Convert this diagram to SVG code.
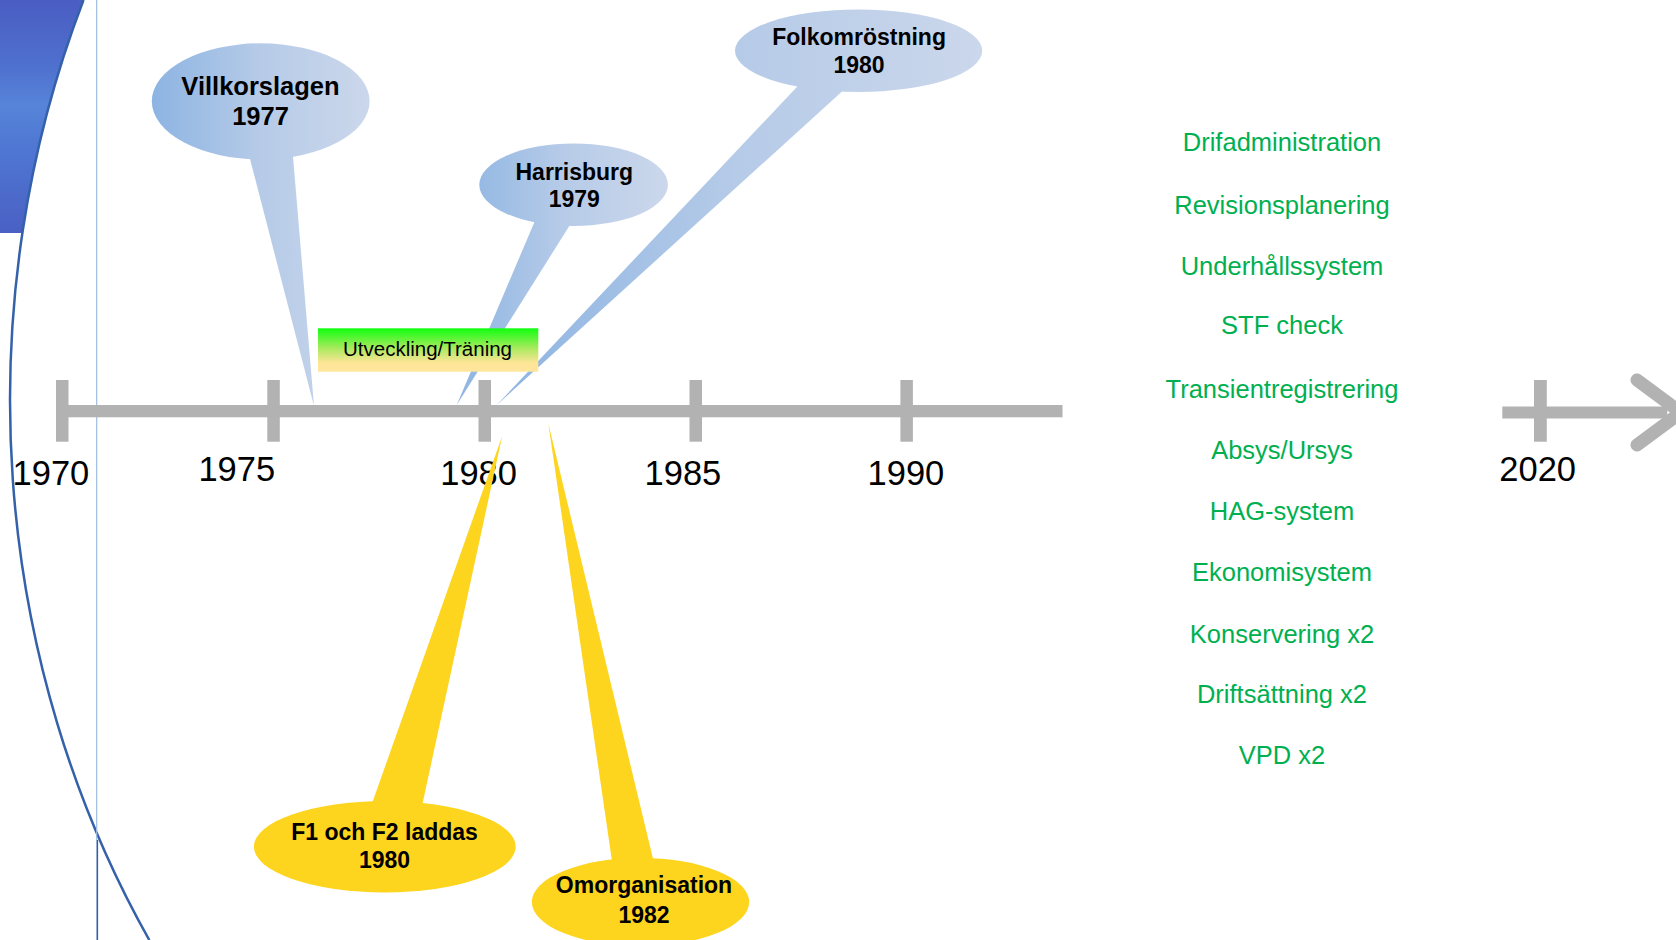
<svg xmlns="http://www.w3.org/2000/svg" width="1676" height="940" viewBox="0 0 1676 940">
<defs>
<linearGradient id="gBlueFill" x1="0" y1="0" x2="0" y2="1">
<stop offset="0" stop-color="#4a5dc2"/>
<stop offset="0.3" stop-color="#4f72cf"/>
<stop offset="0.45" stop-color="#5784d9"/>
<stop offset="0.62" stop-color="#4f78d3"/>
<stop offset="1" stop-color="#4a60c4"/>
</linearGradient>
<linearGradient id="gV" gradientUnits="userSpaceOnUse" x1="152" y1="0" x2="370" y2="0">
<stop offset="0" stop-color="#8db4e2"/>
<stop offset="0.5" stop-color="#b6cbe8"/>
<stop offset="1" stop-color="#cbd7eb"/>
</linearGradient>
<linearGradient id="gH" gradientUnits="userSpaceOnUse" x1="456" y1="0" x2="668" y2="0">
<stop offset="0" stop-color="#8db4e2"/>
<stop offset="0.5" stop-color="#b6cbe8"/>
<stop offset="1" stop-color="#cbd7eb"/>
</linearGradient>
<linearGradient id="gF" gradientUnits="userSpaceOnUse" x1="497" y1="0" x2="982" y2="0">
<stop offset="0" stop-color="#8db4e2"/>
<stop offset="0.5" stop-color="#b6cbe8"/>
<stop offset="1" stop-color="#cbd7eb"/>
</linearGradient>
<linearGradient id="gBox" x1="0" y1="0" x2="0" y2="1">
<stop offset="0" stop-color="#10ff10"/>
<stop offset="0.45" stop-color="#a6ea5c"/>
<stop offset="0.8" stop-color="#ffe598"/>
<stop offset="1" stop-color="#ffe69c"/>
</linearGradient>
<style>
.bold{font-family:"Liberation Sans",Arial,sans-serif;font-weight:bold;font-size:23px;fill:#000;text-anchor:middle}
.yr{font-family:"Liberation Sans",Arial,sans-serif;font-size:34.5px;fill:#000;text-anchor:middle}
.grn{font-family:"Liberation Sans",Arial,sans-serif;font-size:25.5px;fill:#00b050;text-anchor:middle}
.yel{fill:#fdd41e}
.axis{fill:#b2b2b2}
</style>
</defs>
<rect width="1676" height="940" fill="#ffffff"/>

<g id="decor">
<path d="M0,0 L83.5,0 A880,1000 0 0 0 22.4,233 L0,233 Z" fill="url(#gBlueFill)"/>
<path d="M83.5,0 A880,1000 0 0 0 149.3,940" fill="none" stroke="#3461aa" stroke-width="2.5"/>
<line x1="96.7" y1="0" x2="96.7" y2="840" stroke="#9dbbe2" stroke-width="1.2"/>
<line x1="97.3" y1="840" x2="97.3" y2="940" stroke="#2f5fab" stroke-width="1.6"/>
</g>

<g id="callout-villkorslagen">
<polygon points="314,406 245.1,140 291.6,140" fill="url(#gV)"/>
<ellipse cx="260.7" cy="101.3" rx="108.9" ry="58" fill="url(#gV)"/>
<text class="bold" x="260.5" y="95" style="font-size:25.5px">Villkorslagen</text>
<text class="bold" x="260.5" y="125" style="font-size:25.5px">1977</text>
</g>

<g id="callout-harrisburg">
<polygon points="456.7,405 543.8,200 585.7,200" fill="url(#gH)"/>
<ellipse cx="573.6" cy="184.7" rx="94.3" ry="41.3" fill="url(#gH)"/>
<text class="bold" x="574.3" y="180">Harrisburg</text>
<text class="bold" x="574.3" y="206.7">1979</text>
</g>

<g id="callout-folkomrostning">
<polygon points="496.7,405 822.3,60 876.7,60" fill="url(#gF)"/>
<ellipse cx="858.6" cy="50.7" rx="123.6" ry="41.3" fill="url(#gF)"/>
<text class="bold" x="859.1" y="45">Folkomröstning</text>
<text class="bold" x="859.1" y="73.3">1980</text>
</g>

<g id="box-utveckling">
<rect x="318" y="328.3" width="220.3" height="43.4" fill="url(#gBox)"/>
<text x="427.5" y="356" style="font-family:'Liberation Sans',Arial,sans-serif;font-size:20.5px;fill:#000;text-anchor:middle">Utveckling/Träning</text>
</g>

<g id="connectors">
<rect class="axis" x="56" y="405" width="1006.5" height="12.3"/>
<rect class="axis" x="56" y="380" width="12.5" height="61.7"/>
<rect class="axis" x="267.3" y="380" width="12.5" height="61.7"/>
<rect class="axis" x="478.5" y="380" width="12.5" height="61.7"/>
<rect class="axis" x="689.5" y="380" width="12.5" height="61.7"/>
<rect class="axis" x="900.4" y="380" width="12.5" height="61.7"/>
<rect class="axis" x="1502.3" y="406.5" width="165" height="12"/>
<rect class="axis" x="1534" y="380" width="12.8" height="61.7"/>
<polyline points="1637,380 1681,412.5 1637,445" fill="none" stroke="#b2b2b2" stroke-width="13" stroke-linecap="round" stroke-linejoin="round"/>
</g>

<g id="year-labels">
<text class="yr" x="50.9" y="485">1970</text>
<text class="yr" x="236.8" y="481">1975</text>
<text class="yr" x="478.6" y="485">1980</text>
<text class="yr" x="682.9" y="485">1985</text>
<text class="yr" x="905.9" y="485">1990</text>
<text class="yr" x="1537.7" y="481">2020</text>
</g>

<g id="callout-f1f2">
<polygon class="yel" points="502.2,436 362.6,830 416.8,830"/>
<ellipse class="yel" cx="384.8" cy="846.7" rx="130.9" ry="45.7"/>
<text class="bold" x="384.6" y="840">F1 och F2 laddas</text>
<text class="bold" x="384.6" y="868.3">1980</text>
</g>

<g id="callout-omorganisation">
<polygon class="yel" points="548.3,423.3 616.2,890 660.5,890"/>
<ellipse class="yel" cx="640.5" cy="902" rx="108.7" ry="44"/>
<text class="bold" x="644" y="893">Omorganisation</text>
<text class="bold" x="644" y="923.4">1982</text>
</g>

<g id="systems-list">
<text class="grn" x="1282" y="150.7">Drifadministration</text>
<text class="grn" x="1282" y="213.6">Revisionsplanering</text>
<text class="grn" x="1282" y="274.8">Underhållssystem</text>
<text class="grn" x="1282" y="334.2">STF check</text>
<text class="grn" x="1282" y="397.5">Transientregistrering</text>
<text class="grn" x="1282" y="459">Absys/Ursys</text>
<text class="grn" x="1282" y="519.8">HAG-system</text>
<text class="grn" x="1282" y="581.4">Ekonomisystem</text>
<text class="grn" x="1282" y="643">Konservering x2</text>
<text class="grn" x="1282" y="702.8">Driftsättning x2</text>
<text class="grn" x="1282" y="764.4">VPD x2</text>
</g>
</svg>
